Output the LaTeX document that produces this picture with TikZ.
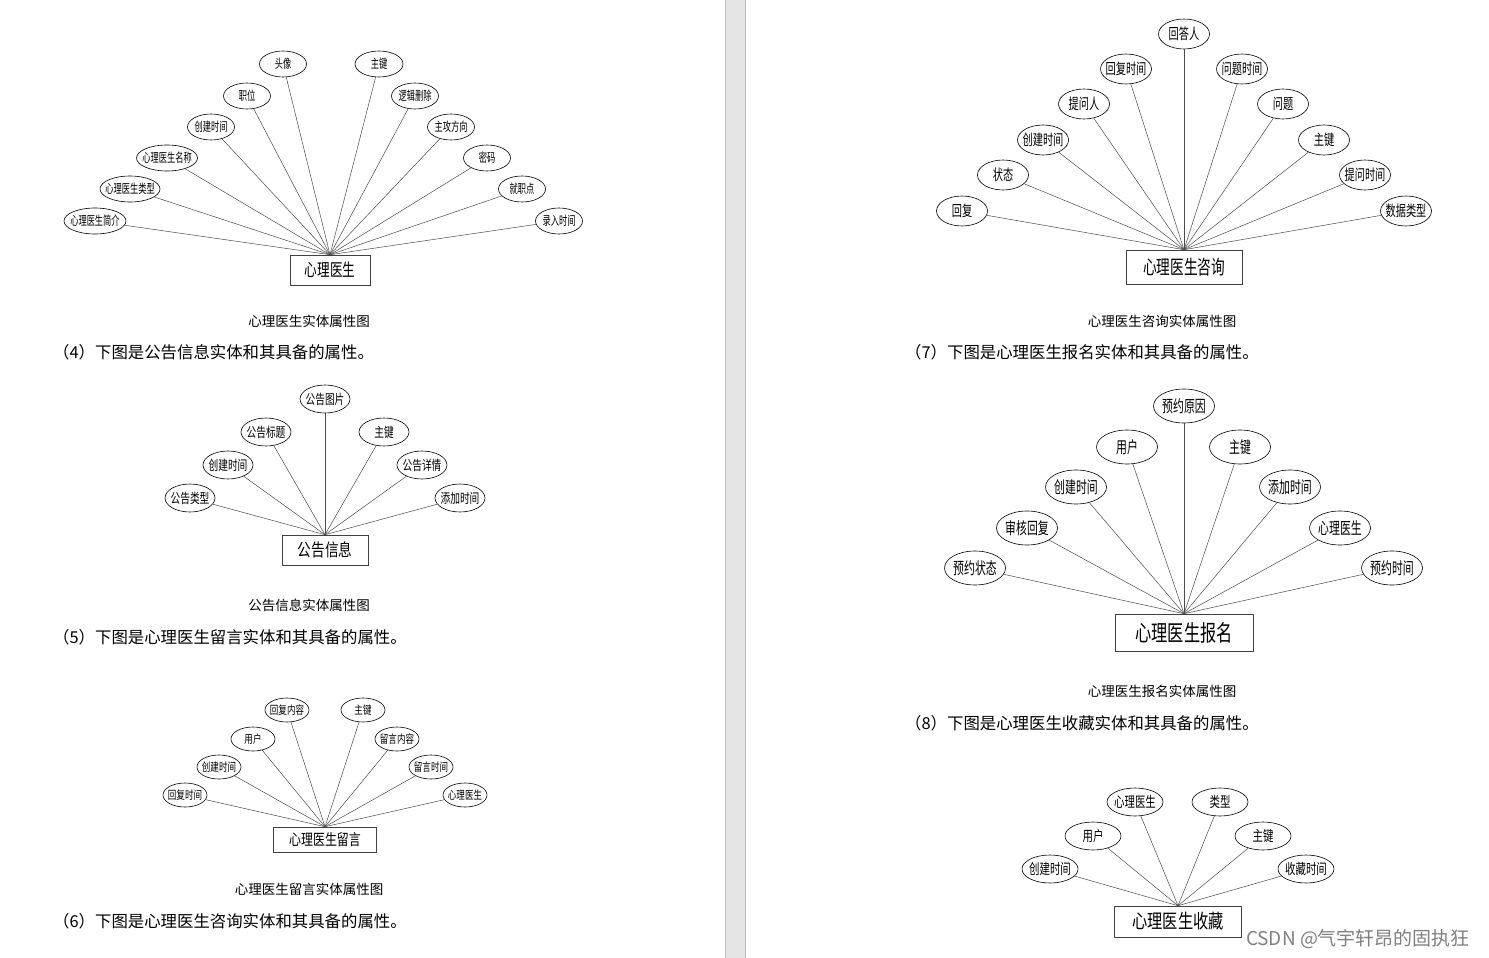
\documentclass[tikz,border=0pt]{standalone}
\usepackage{fontspec}
\usepackage{graphicx}
\setmainfont{Noto Sans CJK SC}
\usetikzlibrary{shapes.geometric}
\newcommand{\sqz}[2]{\makebox[0pt]{\scalebox{#1}[1]{#2}}}
\newcommand{\fs}[1]{\fontsize{#1}{#1}\selectfont}
\begin{document}
\begin{tikzpicture}[x=1pt,y=-1pt,
 attr/.style={ellipse,draw=black,line width=0.6pt,inner sep=0pt,fill=white},
 ent/.style={rectangle,draw=black!75,line width=0.6pt,inner sep=0pt,fill=white},
 conn/.style={draw=black!70,line width=0.5pt},
 captxt/.style={font=\fs{13.5},inner sep=0pt},
 bodytxt/.style={font=\fs{16.4},anchor=west,inner sep=0pt}]
\fill[white] (0,0) rectangle (1489,958);
\useasboundingbox (0,0) rectangle (1489,958);
% page separator
\fill[black!10] (725,0) rectangle (745,958);
\draw[black!25,line width=0.8pt] (725,0) -- (725,958);
\draw[black!25,line width=0.8pt] (745,0) -- (745,958);

% ---------- Diagram 1: 心理医生
\node[ent,minimum width=80,minimum height=30,font=\fs{17.5}] (e1) at (330,270) {\sqz{0.72}{心理医生}};
\foreach \n/\x/\y/\w/\t in {1/95/221/62/心理医生简介,2/130/189/60/心理医生类型,3/167/158/61/心理医生名称,4/211/127/47/创建时间,5/247/96/47/职位,6/283/64/47/头像,7/379/64/48/主键,8/415/96/47/逻辑删除,9/451/127/47/主攻方向,10/487/158/47/密码,11/522/189/47/就职点,12/559/221/47/录入时间}{
 \node[attr,minimum width=\w,minimum height=26,font=\fs{12.5}] (d1-\n) at (\x,\y) {\sqz{0.66}{\t}};
 \draw[conn] (d1-\n) -- (e1.north);
}
\node[captxt] (c1) at (309,321) {心理医生实体属性图};
\node[bodytxt] (t1) at (53,352) {（4）下图是公告信息实体和其具备的属性。};

% ---------- Diagram 2: 公告信息
\node[ent,minimum width=86,minimum height=30,font=\fs{17.5}] (e2) at (325,550) {\sqz{0.78}{公告信息}};
\foreach \n/\x/\y/\t in {1/190/498/公告类型,2/228/465/创建时间,3/266/432/公告标题,4/325/399/公告图片,5/384/432/主键,6/422/465/公告详情,7/460/498/添加时间}{
 \node[attr,minimum width=50,minimum height=28,font=\fs{13.5}] (d2-\n) at (\x,\y) {\sqz{0.72}{\t}};
 \draw[conn] (d2-\n) -- (e2.north);
}
\node[captxt] (c2) at (309,605) {公告信息实体属性图};
\node[bodytxt] (t2) at (53,637) {（5）下图是心理医生留言实体和其具备的属性。};

% ---------- Diagram 3: 心理医生留言
\node[ent,minimum width=103,minimum height=25,font=\fs{15.5}] (e3) at (325,839.5) {\sqz{0.77}{心理医生留言}};
\foreach \n/\x/\y/\t in {1/185/795/回复时间,2/219/767/创建时间,3/253/739/用户,4/287/710/回复内容,5/363/710/主键,6/397/739/留言内容,7/431/767/留言时间,8/465/795/心理医生}{
 \node[attr,minimum width=44,minimum height=24,font=\fs{11.5}] (d3-\n) at (\x,\y) {\sqz{0.74}{\t}};
 \draw[conn] (d3-\n) -- (e3.north);
}
\node[captxt] (c3) at (309,889) {心理医生留言实体属性图};
\node[bodytxt] (t3) at (53,921) {（6）下图是心理医生咨询实体和其具备的属性。};

% ---------- Diagram 4: 心理医生咨询
\node[ent,minimum width=116,minimum height=34,font=\fs{19.5}] (e4) at (1184,267) {\sqz{0.7}{心理医生咨询}};
\foreach \n/\x/\y/\t in {1/962/211/回复,2/1003/175/状态,3/1043/140/创建时间,4/1084/104/提问人,5/1126/69/回复时间,6/1184/34/回答人,7/1242/69/问题时间,8/1283/104/问题,9/1324/140/主键,10/1365/175/提问时间,11/1406/211/数据类型}{
 \node[attr,minimum width=51,minimum height=30,font=\fs{15}] (d4-\n) at (\x,\y) {\sqz{0.68}{\t}};
 \draw[conn] (d4-\n) -- (e4.north);
}
\node[captxt] (c4) at (1162,321) {心理医生咨询实体属性图};
\node[bodytxt] (t4) at (905,352) {（7）下图是心理医生报名实体和其具备的属性。};

% ---------- Diagram 5: 心理医生报名
\node[ent,minimum width=138,minimum height=37,font=\fs{22.5}] (e5) at (1184,632.5) {\sqz{0.72}{心理医生报名}};
\foreach \n/\x/\y/\t in {1/975/568/预约状态,2/1027/528/审核回复,3/1076/487/创建时间,4/1127/447/用户,5/1184/406/预约原因,6/1240/447/主键,7/1290/487/添加时间,8/1340/528/心理医生,9/1392/568/预约时间}{
 \node[attr,minimum width=61,minimum height=34,font=\fs{16.5}] (d5-\n) at (\x,\y) {\sqz{0.66}{\t}};
 \draw[conn] (d5-\n) -- (e5.north);
}
\node[captxt] (c5) at (1162,691) {心理医生报名实体属性图};
\node[bodytxt] (t5) at (905,723) {（8）下图是心理医生收藏实体和其具备的属性。};

% ---------- Diagram 6: 心理医生收藏
\node[ent,minimum width=127,minimum height=31,font=\fs{19.5}] (e6) at (1178,921.5) {\sqz{0.78}{心理医生收藏}};
\foreach \n/\x/\y/\t in {1/1050/869/创建时间,2/1093/836/用户,3/1135/802/心理医生,4/1220/802/类型,5/1263/836/主键,6/1306/869/收藏时间}{
 \node[attr,minimum width=56,minimum height=28,font=\fs{14.5}] (d6-\n) at (\x,\y) {\sqz{0.72}{\t}};
 \draw[conn] (d6-\n) -- (e6.north);
}
\node[font=\fs{19},text=black!50,inner sep=0pt] (wm) at (1358,939) {CSDN @气宇轩昂的固执狂};
\end{tikzpicture}
\end{document}
